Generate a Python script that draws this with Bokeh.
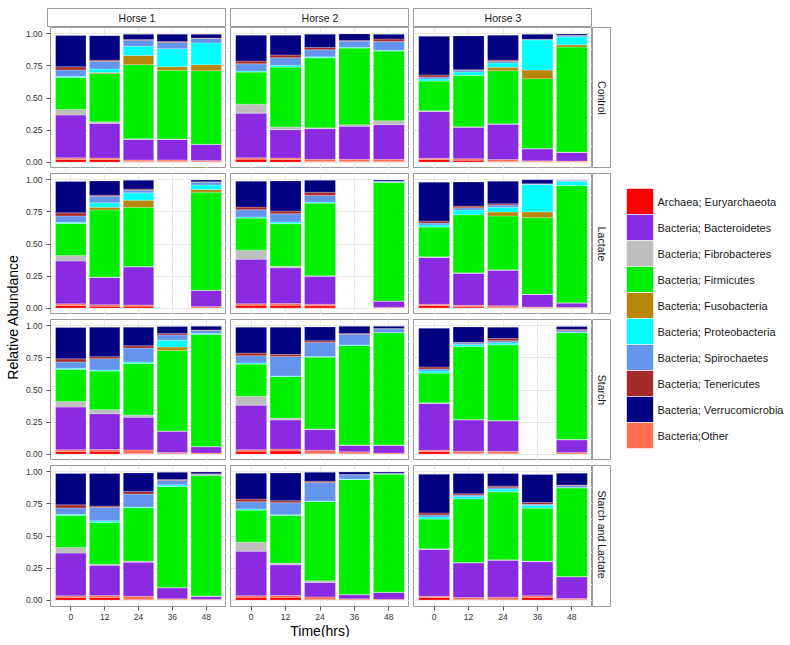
from bokeh.plotting import figure
from bokeh.models import Range1d, LinearAxis, Grid, FixedTicker, ColumnDataSource, PrintfTickFormatter
from bokeh.layouts import row, column
from bokeh.embed import file_html
from bokeh.resources import INLINE
from bokeh.core.properties import value

FONT = "Liberation Sans"

# ---------------- data ----------------
times = ["0", "12", "24", "36", "48"]
horses = ["Horse 1", "Horse 2", "Horse 3"]
treatments = ["Control", "Lactate", "Starch", "Starch  and Lactate"]

# stacking order bottom -> top
stack_keys = ["arch", "other", "bact", "fibro", "firm", "fuso", "proteo", "spiro", "teneri", "verru"]
stack_colors = ["#FF0000", "#FF6E55", "#8A2BE2", "#BEBEBE", "#00EE00",
                "#B8860B", "#00FFFF", "#6495ED", "#A52A2A", "#000080"]

legend_labels = ["Archaea; Euryarchaeota", "Bacteria; Bacteroidetes", "Bacteria; Fibrobacteres",
                 "Bacteria; Firmicutes", "Bacteria; Fusobacteria", "Bacteria; Proteobacteria",
                 "Bacteria; Spirochaetes", "Bacteria; Tenericutes", "Bacteria; Verrucomicrobia",
                 "Bacteria;Other"]
legend_colors = ["#FF0000", "#8A2BE2", "#BEBEBE", "#00EE00", "#B8860B",
                 "#00FFFF", "#6495ED", "#A52A2A", "#000080", "#FF6E55"]

# each bar: [Archaea, Other, Bacteroidetes, Fibrobacteres, Firmicutes,
#            Fusobacteria, Proteobacteria, Spirochaetes, Tenericutes, Verrucomicrobia]
horse1_t0 = [0.020, 0.013, 0.334, 0.044, 0.250, 0.000, 0.008, 0.050, 0.024, 0.245]
horse2_t0 = [0.022, 0.012, 0.348, 0.070, 0.251, 0.000, 0.008, 0.056, 0.021, 0.202]
horse3_t0 = [0.020, 0.010, 0.365, 0.005, 0.233, 0.000, 0.016, 0.015, 0.016, 0.302]

control_horse1 = [horse1_t0,
                  [0.020, 0.012, 0.270, 0.013, 0.375, 0.008, 0.028, 0.060, 0.010, 0.190],
                  [0.004, 0.012, 0.160, 0.007, 0.577, 0.072, 0.072, 0.047, 0.005, 0.041],
                  [0.005, 0.012, 0.159, 0.005, 0.535, 0.028, 0.140, 0.049, 0.007, 0.057],
                  [0.003, 0.010, 0.124, 0.003, 0.573, 0.047, 0.170, 0.034, 0.004, 0.029]]
control_horse2 = [horse2_t0,
                  [0.020, 0.012, 0.221, 0.021, 0.468, 0.000, 0.013, 0.059, 0.021, 0.155],
                  [0.005, 0.018, 0.238, 0.006, 0.547, 0.000, 0.008, 0.054, 0.018, 0.103],
                  [0.004, 0.018, 0.257, 0.013, 0.599, 0.000, 0.004, 0.048, 0.005, 0.052],
                  [0.004, 0.018, 0.270, 0.031, 0.545, 0.000, 0.005, 0.067, 0.021, 0.036]]
control_horse3 = [horse3_t0,
                  [0.015, 0.012, 0.244, 0.004, 0.402, 0.000, 0.026, 0.013, 0.005, 0.263],
                  [0.005, 0.015, 0.275, 0.004, 0.414, 0.026, 0.034, 0.013, 0.010, 0.194],
                  [0.002, 0.008, 0.093, 0.003, 0.545, 0.067, 0.235, 0.004, 0.002, 0.038],
                  [0.002, 0.006, 0.067, 0.003, 0.819, 0.018, 0.062, 0.010, 0.002, 0.011]]

lactate_horse1 = [horse1_t0,
                  [0.015, 0.012, 0.211, 0.005, 0.522, 0.021, 0.036, 0.051, 0.008, 0.111],
                  [0.015, 0.010, 0.295, 0.005, 0.461, 0.056, 0.057, 0.021, 0.008, 0.069],
                  None,
                  [0.000, 0.012, 0.125, 0.003, 0.764, 0.021, 0.036, 0.021, 0.003, 0.015]]
lactate_horse2 = [horse2_t0,
                  [0.022, 0.014, 0.279, 0.011, 0.333, 0.000, 0.013, 0.064, 0.021, 0.235],
                  [0.018, 0.012, 0.218, 0.005, 0.566, 0.000, 0.008, 0.052, 0.025, 0.093],
                  None,
                  [0.000, 0.006, 0.048, 0.002, 0.926, 0.000, 0.000, 0.010, 0.000, 0.008]]
lactate_horse3 = [horse3_t0,
                  [0.010, 0.012, 0.249, 0.004, 0.454, 0.000, 0.036, 0.018, 0.013, 0.188],
                  [0.003, 0.015, 0.277, 0.004, 0.419, 0.031, 0.037, 0.018, 0.010, 0.176],
                  [0.002, 0.006, 0.098, 0.003, 0.597, 0.045, 0.214, 0.003, 0.003, 0.030],
                  [0.001, 0.005, 0.033, 0.002, 0.915, 0.000, 0.034, 0.005, 0.000, 0.002]]

starch_horse1 = [horse1_t0,
                 [0.022, 0.013, 0.280, 0.031, 0.303, 0.000, 0.007, 0.088, 0.016, 0.230],
                 [0.005, 0.027, 0.255, 0.018, 0.403, 0.000, 0.010, 0.109, 0.018, 0.145],
                 [0.002, 0.010, 0.166, 0.003, 0.628, 0.026, 0.054, 0.041, 0.010, 0.055],
                 [0.000, 0.008, 0.049, 0.003, 0.875, 0.000, 0.005, 0.024, 0.004, 0.029]]
starch_horse2 = [horse2_t0,
                 [0.025, 0.014, 0.227, 0.016, 0.323, 0.000, 0.004, 0.153, 0.016, 0.212],
                 [0.005, 0.025, 0.161, 0.005, 0.561, 0.000, 0.004, 0.110, 0.013, 0.108],
                 [0.003, 0.015, 0.049, 0.004, 0.777, 0.000, 0.004, 0.083, 0.005, 0.057],
                 [0.000, 0.008, 0.059, 0.004, 0.877, 0.000, 0.000, 0.029, 0.003, 0.017]]
starch_horse3 = [horse3_t0,
                 [0.005, 0.018, 0.243, 0.004, 0.570, 0.000, 0.015, 0.013, 0.005, 0.119],
                 [0.004, 0.018, 0.236, 0.004, 0.591, 0.000, 0.015, 0.016, 0.018, 0.088],
                 None,
                 [0.000, 0.012, 0.099, 0.004, 0.833, 0.000, 0.003, 0.013, 0.008, 0.023]]

starch_lactate_horse1 = [horse1_t0,
                         [0.020, 0.016, 0.235, 0.008, 0.326, 0.000, 0.013, 0.106, 0.010, 0.253],
                         [0.004, 0.025, 0.266, 0.010, 0.416, 0.000, 0.005, 0.101, 0.021, 0.144],
                         [0.002, 0.008, 0.086, 0.003, 0.787, 0.000, 0.013, 0.034, 0.008, 0.056],
                         [0.000, 0.006, 0.022, 0.003, 0.943, 0.000, 0.000, 0.008, 0.003, 0.015]]
starch_lactate_horse2 = [horse2_t0,
                         [0.022, 0.014, 0.240, 0.013, 0.372, 0.000, 0.005, 0.094, 0.015, 0.217],
                         [0.005, 0.020, 0.112, 0.013, 0.620, 0.000, 0.004, 0.143, 0.011, 0.069],
                         [0.002, 0.008, 0.031, 0.003, 0.897, 0.000, 0.003, 0.033, 0.003, 0.020],
                         [0.000, 0.006, 0.053, 0.003, 0.922, 0.000, 0.000, 0.006, 0.000, 0.010]]
starch_lactate_horse3 = [horse3_t0,
                         [0.005, 0.015, 0.269, 0.004, 0.498, 0.000, 0.018, 0.010, 0.010, 0.158],
                         [0.003, 0.020, 0.287, 0.004, 0.531, 0.000, 0.021, 0.010, 0.013, 0.098],
                         [0.020, 0.014, 0.266, 0.004, 0.414, 0.000, 0.021, 0.008, 0.015, 0.217],
                         [0.004, 0.008, 0.169, 0.004, 0.691, 0.000, 0.003, 0.015, 0.004, 0.092]]

panel_data = [
    [control_horse1, control_horse2, control_horse3],
    [lactate_horse1, lactate_horse2, lactate_horse3],
    [starch_horse1, starch_horse2, starch_horse3],
    [starch_lactate_horse1, starch_lactate_horse2, starch_lactate_horse3],
]

y_ticks = [0.0, 0.25, 0.5, 0.75, 1.0]
y_minor = [0.125, 0.375, 0.625, 0.875]

# ---------------- layout constants ----------------
TOP = 8                 # top margin
FW, FH = 179, 141       # panel frame
GX, GY = 4, 5           # gaps between panels
AXW = 25                # left axis area
XAH = 17                # bottom axis area
SH = 19                 # strip thickness
YT_W = 22               # y-title strip width
XT_H = 14               # x-title height
LEG_W = 179
BORDER = "#9a9a9a"
GRID = "#E8E8E8"
MINOR = "#FAFAFA"
TXT = "#1a1a1a"


def base_fig(width, height, left=0, right=0, top=0, bottom=0, xr=(0, 1), yr=(0, 1)):
    f = figure(width=width, height=height, x_range=Range1d(*xr), y_range=Range1d(*yr),
               x_axis_type=None, y_axis_type=None, toolbar_location=None,
               output_backend="svg", min_border_left=left, min_border_right=right,
               min_border_top=top, min_border_bottom=bottom)
    f.outline_line_color = None
    f.background_fill_color = "white"
    f.border_fill_color = "white"
    return f


def style_axis(ax, standoff):
    ax.axis_line_color = None
    ax.major_tick_line_color = "#555555"
    ax.major_tick_out = 4
    ax.major_tick_in = 0
    ax.minor_tick_line_color = None
    ax.major_label_text_font = FONT
    ax.major_label_text_font_size = "8.5px"
    ax.major_label_text_color = "#333333"
    ax.major_label_standoff = standoff


def make_panel(bars, show_y, show_x, top_gap):
    left = AXW if show_y else GX
    bottom = XAH if show_x else 0
    p = base_fig(left + FW, top_gap + FH + bottom, left=left, top=top_gap, bottom=bottom,
                 xr=(-0.6, 4.6), yr=(-0.05, 1.05))
    p.outline_line_color = BORDER
    p.outline_line_width = 1
    p.add_layout(Grid(dimension=0, ticker=FixedTicker(ticks=list(range(len(times)))),
                      grid_line_color=GRID))
    p.add_layout(Grid(dimension=1, ticker=FixedTicker(ticks=y_ticks, minor_ticks=y_minor),
                      grid_line_color=GRID, minor_grid_line_color=MINOR))
    xs = [i for i, b in enumerate(bars) if b is not None]
    src = {"x": xs}
    for k, key in enumerate(stack_keys):
        src[key] = [bars[i][k] for i in xs]
    p.vbar_stack(stack_keys, x="x", width=0.9, fill_color=stack_colors,
                 line_color="white", line_width=0.4, line_alpha=0.6,
                 source=ColumnDataSource(src))
    if show_y:
        ax = LinearAxis(ticker=FixedTicker(ticks=y_ticks),
                        formatter=PrintfTickFormatter(format="%.2f"))
        style_axis(ax, 4)
        p.add_layout(ax, "left")
    if show_x:
        ax = LinearAxis(ticker=FixedTicker(ticks=list(range(len(times)))),
                        major_label_overrides={i: t for i, t in enumerate(times)})
        style_axis(ax, 3)
        p.add_layout(ax, "below")
    return p


def strip_top(label, first):
    left = AXW if first else GX
    s = base_fig(left + FW, TOP + SH, left=left, top=TOP)
    s.outline_line_color = BORDER
    s.text(x=[0.5], y=[0.5], text=[label], text_align="center", text_baseline="middle",
           text_font=value(FONT), text_font_size="10.5px", text_color=TXT)
    return s


def strip_right(label, top_gap, bottom):
    s = base_fig(SH, top_gap + FH + bottom, top=top_gap, bottom=bottom)
    s.outline_line_color = BORDER
    s.text(x=[0.5], y=[0.5], text=[label], angle=-1.5707963, text_align="center",
           text_baseline="middle", text_font=value(FONT), text_font_size="10.5px",
           text_color=TXT)
    return s


# top strips
top_row = row([strip_top(h, j == 0) for j, h in enumerate(horses)] +
              [base_fig(SH, TOP + SH)], spacing=0)

rows = [top_row]
n_rows = len(treatments)
for i, trt in enumerate(treatments):
    top_gap = 0 if i == 0 else GY
    last = i == n_rows - 1
    figs = [make_panel(panel_data[i][j], j == 0, last, top_gap) for j in range(len(horses))]
    figs.append(strip_right(trt, top_gap, XAH if last else 0))
    rows.append(row(figs, spacing=0))

main_w = AXW + FW + 2 * (GX + FW) + SH
xt = base_fig(main_w, XT_H, xr=(0, main_w), yr=(0, XT_H))
panels_center_x = AXW + (3 * FW + 2 * GX) / 2.0
xt.text(x=[panels_center_x], y=[XT_H / 2.0], text=["Time(hrs)"], text_align="center",
        text_baseline="middle", text_font=value(FONT), text_font_size="14px", text_color="black")
rows.append(xt)
main_col = column(rows, spacing=0)

total_h = TOP + SH + FH + 3 * (GY + FH) + XAH + XT_H
panels_center_from_top = TOP + SH + (4 * FH + 3 * GY) / 2.0

yt = base_fig(YT_W, total_h, xr=(0, YT_W), yr=(0, total_h))
yt.text(x=[12.5], y=[total_h - panels_center_from_top], text=["Relative Abundance"],
        angle=1.5707963, text_align="center", text_baseline="middle", text_font=value(FONT),
        text_font_size="14px", text_color="black")

# legend
leg = base_fig(LEG_W, total_h, xr=(0, LEG_W), yr=(0, total_h))
KEY = 26
n = len(legend_labels)
top0 = panels_center_from_top + 1.5 - n * KEY / 2.0
ys = [total_h - (top0 + KEY / 2.0 + KEY * k) for k in range(n)]
leg_src = ColumnDataSource(dict(y=ys, color=legend_colors, label=legend_labels,
                                x=[28.5] * n, tx=[46] * n))
leg.rect(x="x", y="y", width=27, height=KEY, fill_color="color", line_color="white",
         line_width=0.6, source=leg_src)
leg.text(x="tx", y="y", text="label", text_align="left", text_baseline="middle",
         text_font=value(FONT), text_font_size="11px", text_color=TXT, source=leg_src)

layout = row([yt, main_col, leg], spacing=0)

open("out.html", "w").write(file_html(layout, INLINE))
